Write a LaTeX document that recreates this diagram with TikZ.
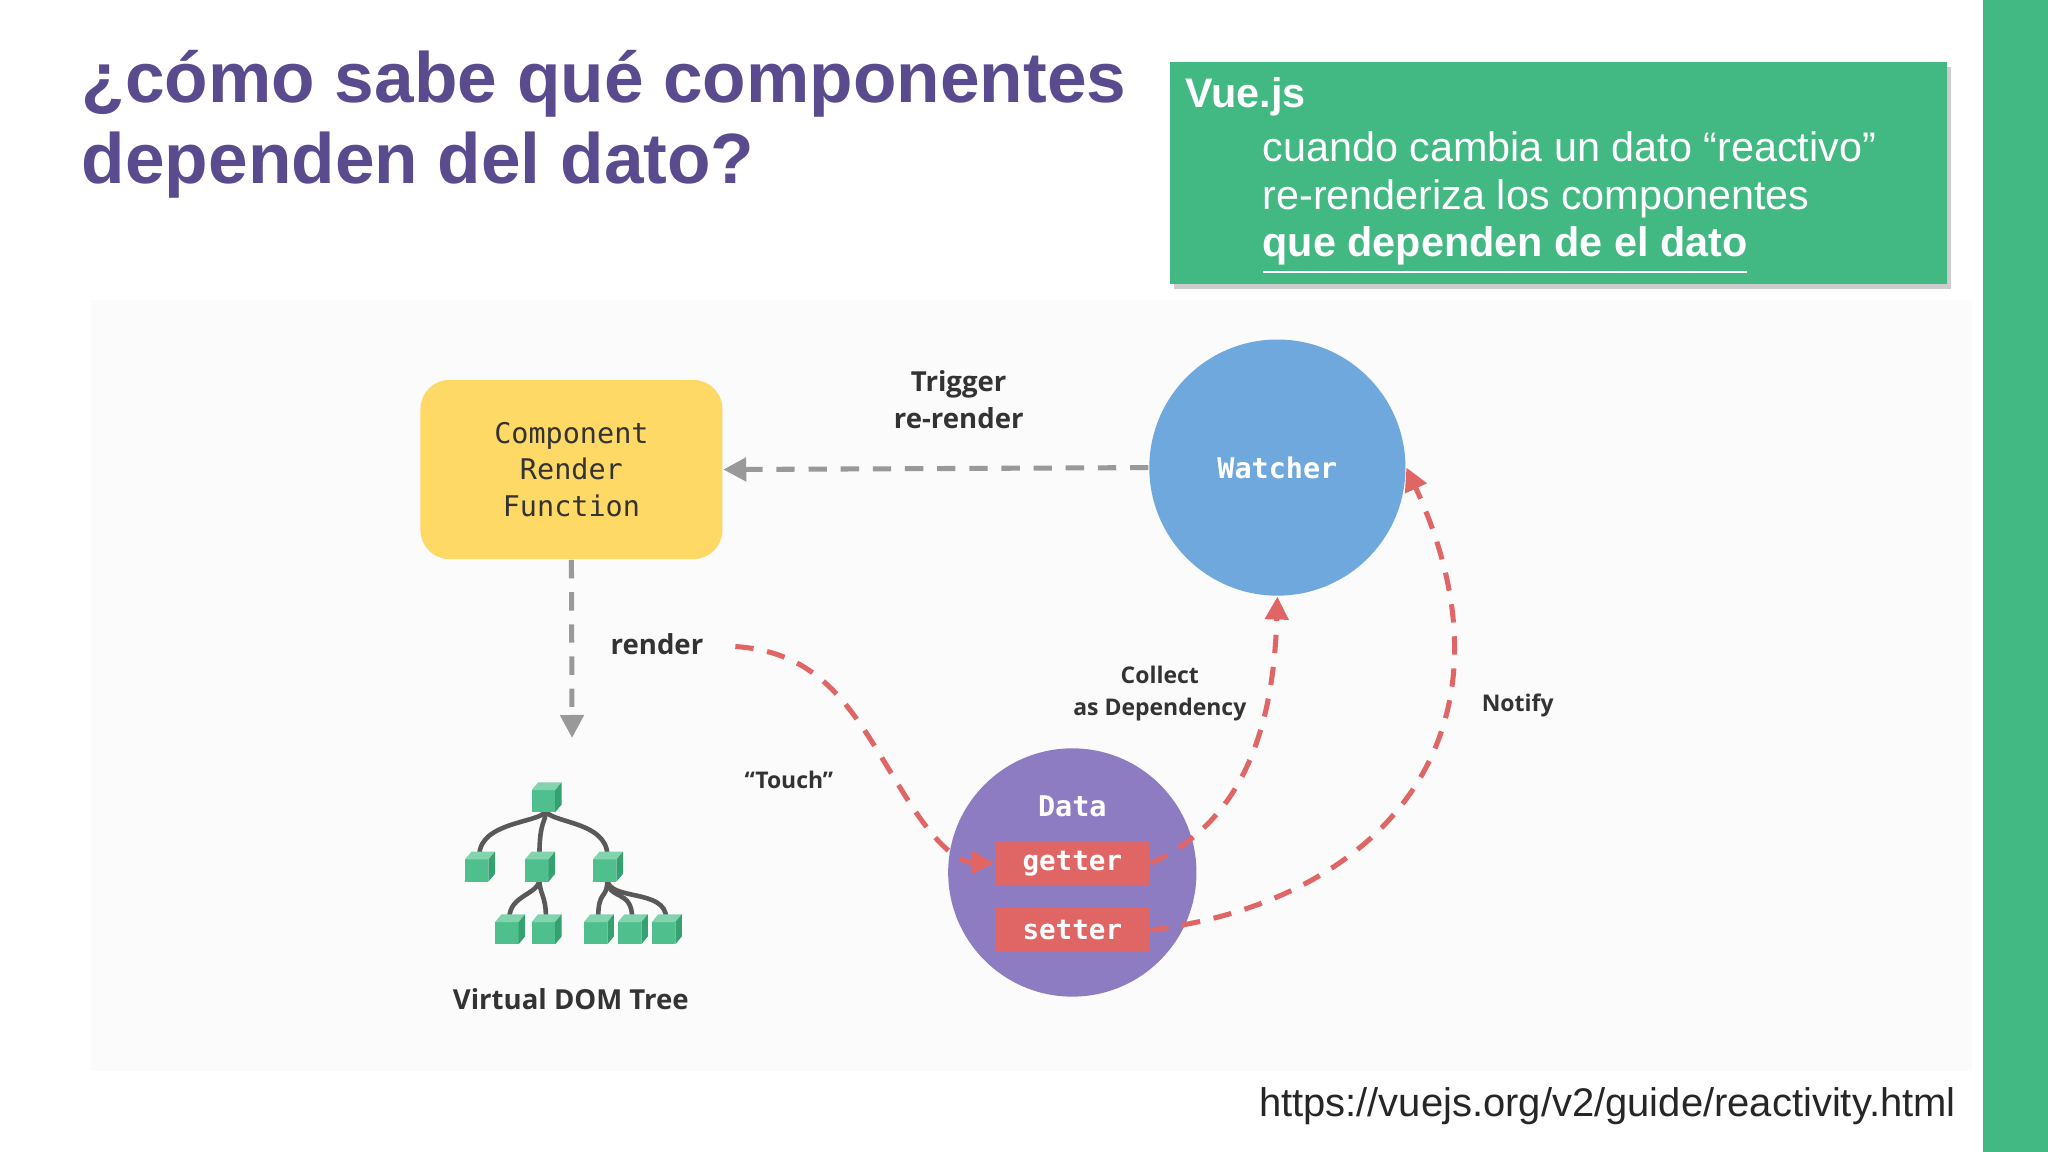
\documentclass[tikz,border=0pt]{standalone}
\usepackage{fontspec}
\setmainfont{Liberation Sans}
\newfontfamily\lab{Open Sans}
\newfontfamily\mono{DejaVu Sans Mono}
\usetikzlibrary{arrows.meta}
\definecolor{vgreen}{HTML}{42B883}
\definecolor{ttl}{HTML}{5A4A8E}
\definecolor{ybox}{HTML}{FFD966}
\definecolor{wblue}{HTML}{6FA8DC}
\definecolor{dpurp}{HTML}{8E7CC3}
\definecolor{rred}{HTML}{E06666}
\definecolor{cube}{HTML}{4FC08D}
\definecolor{cubed}{HTML}{35A070}
\definecolor{txt}{HTML}{333333}
\tikzset{
 lbl/.style={font=\lab\bfseries\fontsize{6}{8}\selectfont, text=txt, align=center},
 lbls/.style={font=\lab\bfseries\fontsize{5}{7}\selectfont, text=txt, align=center},
 gdash/.style={draw=gray!80, line width=1.1pt, dash pattern=on 4pt off 3pt, -{Triangle[length=5pt,width=5pt]}},
 rdash/.style={draw=rred, line width=1.1pt, dash pattern=on 4pt off 3pt, -{Triangle[length=5pt,width=5pt]}},
 tag/.style={fill=rred, minimum width=1.18cm, minimum height=0.34cm, inner sep=0pt, text=white, font=\mono\bfseries\fontsize{6}{7}\selectfont},
 edge/.style={draw=gray!70!black, line width=1pt},
 boxt/.style={anchor=west, text=white, font=\fontsize{9}{11}\selectfont, inner sep=0pt}
}
\newcommand\cubeat[2]{%
 \fill[cube] (#1-11,#2-5) rectangle (#1+7,#2+12);
 \fill[cube!70!white] (#1-11,#2-5) -- (#1-6,#2-11) -- (#1+12,#2-11) -- (#1+7,#2-5) -- cycle;
 \fill[cubed] (#1+7,#2-5) -- (#1+12,#2-11) -- (#1+12,#2+6) -- (#1+7,#2+12) -- cycle;}
\begin{document}
\begin{tikzpicture}[x=0.01cm,y=-0.01cm]
\useasboundingbox (0,0) rectangle (1568,882);
\fill[white] (0,0) rectangle (1568,882);
\fill[gray!3] (70,230) rectangle (1510,820);
\fill[vgreen] (1518,0) rectangle (1568,882);
\node[anchor=north west, font=\bfseries\fontsize{15.5}{17.6}\selectfont, text=ttl, align=left, inner sep=0pt] (title) at (62,38) {¿cómo sabe qué componentes\\dependen del dato?};
\fill[gray!40] (899,51) rectangle (1494,221);
\node[fill=vgreen, anchor=north west, minimum width=5.95cm, minimum height=1.7cm, inner sep=0pt] (vbox) at (895,47) {};
\node[boxt, font=\bfseries\fontsize{9}{11}\selectfont] (vt) at (907,74) {Vue.js};
\node[boxt] (v1) at (966,112) {cuando cambia un dato “reactivo”};
\node[boxt] (v2) at (966,152) {re-renderiza los componentes};
\node[boxt, font=\bfseries\fontsize{9}{11}\selectfont] (v3) at (966,192) {\underline{que dependen de el dato}};
% nodes
\node[fill=ybox, rounded corners=0.22cm, minimum width=2.31cm, minimum height=1.37cm, font=\mono\fontsize{6.2}{8}\selectfont, text=txt, align=center] (comp) at (437.5,359.5) {Component\\Render\\Function};
\node[circle, fill=wblue, minimum size=1.96cm, text=white, font=\mono\bfseries\fontsize{6.2}{8}\selectfont] (watch) at (978,358) {Watcher};
\node[circle, fill=dpurp, minimum size=1.9cm, inner sep=0pt] (data) at (821,668) {};
\node[text=white, font=\mono\bfseries\fontsize{6.2}{8}\selectfont] (dlab) at (821,617) {Data};
\node[tag] (get) at (821,661) {getter};
\node[tag] (set) at (821,712) {setter};
% arrows
\draw[gdash] (watch.west) -- (comp.east);
\node[lbl] (trig) at (734,306) {Trigger\\re-render};
\coordinate (vd) at (438,565);
\draw[gdash] (comp.south) -- (vd);
\node[lbl] (rend) at (503,493) {render};
\draw[rdash] (563,495) .. controls (640,500) and (660,560) .. (700,620) .. controls (720,650) and (735,660) .. (get.west);
\node[lbls] (touch) at (604,597) {“Touch”};
\draw[rdash] (get.east) .. controls (950,630) and (975,560) .. (watch.south);
\node[lbls] (coll) at (888,531) {Collect\\as Dependency};
\draw[rdash] (set.east) .. controls (1060,690) and (1170,560) .. (watch.east);
\node[lbls] (notif) at (1162,540) {Notify};
% tree
\foreach \a/\b in {367/663,413/663,465/663} \draw[edge] (418,620) .. controls (418,630) and (\a,628) .. (\a,655);
\foreach \a in {390,418} \draw[edge] (413,673) .. controls (413,685) and (\a,685) .. (\a,703);
\foreach \a in {458,484,510} \draw[edge] (465,673) .. controls (465,690) and (\a,680) .. (\a,703);
\cubeat{418}{610}
\cubeat{367}{663}\cubeat{413}{663}\cubeat{465}{663}
\cubeat{390}{711}\cubeat{418}{711}\cubeat{458}{711}\cubeat{484}{711}\cubeat{510}{711}
\node[lbl] (vdom) at (437,765) {Virtual DOM Tree};
\node[anchor=east, font=\fontsize{8.7}{10}\selectfont, text=black!85, inner sep=0pt] (url) at (1498,847) {https://vuejs.org/v2/guide/reactivity.html};
\end{tikzpicture}
\end{document}
